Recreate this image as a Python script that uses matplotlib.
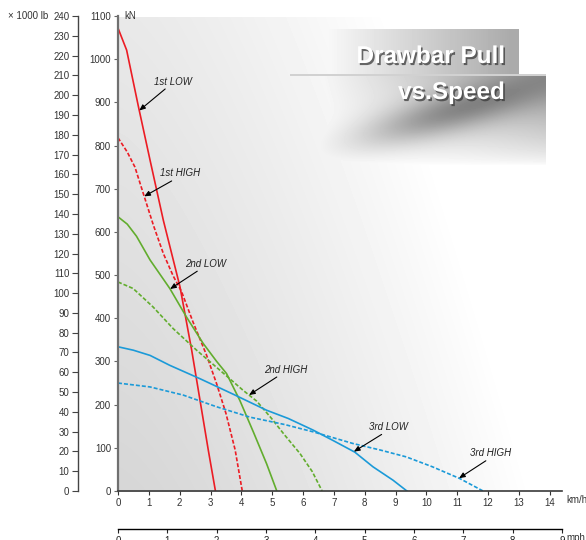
import numpy as np
import matplotlib
matplotlib.use("Agg")
import matplotlib.pyplot as plt
import matplotlib.patheffects as pe

plt.rcParams['font.family'] = ['Liberation Sans', 'DejaVu Sans']

# speed (km/h) and drawbar pull (kN)
low1_x = [0, 0.28, 0.66, 1.04, 1.47, 2.01, 2.39, 2.66, 2.93, 3.16]
low1_y = [1072, 1021, 891, 766, 627, 473, 326, 210, 94, 0]
high1_x = [0, 0.3, 0.55, 0.82, 1.15, 1.47, 1.79, 2.06, 2.44, 2.87, 3.2, 3.5, 3.8, 4.03]
high1_y = [818, 785, 750, 689, 615, 550, 498, 462, 390, 315, 248, 180, 95, 0]
low2_x = [0, 0.3, 0.6, 1.04, 1.68, 2.22, 2.76, 3.2, 3.52, 3.95, 4.4, 4.82, 5.15]
low2_y = [635, 618, 590, 535, 469, 403, 342, 300, 272, 210, 135, 63, 0]
high2_x = [0, 0.49, 1.14, 1.79, 2.55, 3.3, 4.06, 4.5, 4.98, 5.4, 5.9, 6.3, 6.62]
high2_y = [484, 469, 426, 376, 326, 280, 233, 208, 168, 130, 87, 45, 0]
low3_x = [0, 0.5, 1.04, 1.68, 2.66, 3.74, 4.82, 5.52, 6.33, 7.0, 7.68, 8.27, 8.92, 9.37]
low3_y = [334, 326, 314, 291, 260, 224, 187, 168, 141, 116, 90, 56, 25, 0]
high3_x = [0, 1.04, 2.12, 3.2, 4.28, 5.4, 6.33, 7.62, 8.5, 9.35, 10.2, 11.08, 11.84]
high3_y = [250, 241, 222, 195, 171, 154, 137, 110, 95, 79, 56, 29, 0]

kmh_ticks = list(range(0, 15))
mph_ticks = list(range(0, 10))
kn_ticks = list(range(0, 1101, 100))
lb_ticks = list(range(0, 241, 10))

W, H = 586, 540
fig = plt.figure(figsize=(W / 100, H / 100), dpi=100)

# background shading (grey wash + title banners)
yy, xx = np.mgrid[0:H, 0:W].astype(float)
u = np.clip((xx - 118) / 444, 0, None)
v = (yy - 17) / 474
bg = 0.84 + 0.16 * np.clip(1.1 * u ** 1.4 + 0.45 * (1 - v), 0, 1)
inside = (xx >= 118) & (yy >= 17) & (yy <= 491)
bg = np.where(inside, bg, 1.0)
b1 = (xx >= 300) & (xx <= 518) & (yy >= 29) & (yy <= 73)
t1 = np.clip((xx - 310) / 200, 0, 1)
bg = np.where(b1, np.minimum(bg, 1 - 0.33 * t1), bg)
b2 = (xx >= 290) & (xx <= 545) & (yy >= 75) & (yy <= 165)
t2 = np.clip((xx - 300) / 245, 0, 1) * np.clip(1 - (yy - 75) / 90, 0, 1) ** 0.7
smear_a = (xx - 450) * np.cos(0.28) - (yy - 112) * np.sin(0.28)
smear_b = (xx - 450) * np.sin(0.28) + (yy - 112) * np.cos(0.28)
smear = 0.3 * np.exp(-((smear_a / 95) ** 2 + (smear_b / 20) ** 2))
val2 = 1 - 0.4 * t2 - smear
bg = np.where(b2, np.minimum(bg, val2), bg)
line = (xx >= 290) & (xx <= 545) & (yy >= 73.5) & (yy <= 75)
bg = np.where(line, 0.82, bg)

axbg = fig.add_axes([0, 0, 1, 1])
axbg.imshow(bg, cmap='gray', vmin=0, vmax=1, aspect='auto', interpolation='bilinear')
axbg.axis('off')

left, bottom = 118 / W, (H - 491) / H
width, height = 444 / W, 475 / H
ax = fig.add_axes([left, bottom, width, height])
ax.patch.set_alpha(0)

red, green, blue = '#ec1c24', '#62ad2e', '#1b9ad8'
lw = 1.2
dash = (0, (2.4, 1.2))
ax.plot(low1_x, low1_y, color=red, lw=lw)
ax.plot(high1_x, high1_y, color=red, lw=lw, linestyle=dash)
ax.plot(low2_x, low2_y, color=green, lw=lw)
ax.plot(high2_x, high2_y, color=green, lw=lw, linestyle=dash)
ax.plot(low3_x, low3_y, color=blue, lw=lw)
ax.plot(high3_x, high3_y, color=blue, lw=lw, linestyle=dash)

ax.set_xlim(0, 14.4)
ax.set_ylim(0, 1100)
ax.set_xticks(kmh_ticks)
ax.set_yticks(kn_ticks)
ax.tick_params(axis='both', labelsize=7, colors='#333333', length=3, width=0.8, pad=2)
ax.tick_params(axis='y', colors='#666666', labelcolor='#333333')
for s in ['top', 'right']:
    ax.spines[s].set_visible(False)
ax.spines['left'].set_color('#707070')
ax.spines['left'].set_linewidth(1.6)
ax.spines['bottom'].set_color('#3a3a3a')
ax.spines['bottom'].set_linewidth(1.2)

# labels with arrows
labels = [
    ('1st LOW', low1_x, low1_y, 0.69, (1.79, 947), (1.53, 931)),
    ('1st HIGH', high1_x, high1_y, 0.85, (2.01, 736), (1.74, 718)),
    ('2nd LOW', low2_x, low2_y, 1.69, (2.85, 525), (2.57, 509)),
    ('2nd HIGH', high2_x, high2_y, 4.25, (5.45, 281), (5.15, 264)),
    ('3rd LOW', low3_x, low3_y, 7.65, (8.77, 148), (8.55, 131)),
    ('3rd HIGH', high3_x, high3_y, 11.06, (12.07, 88), (11.93, 70)),
]
for name, sx, sy, tx, tpos, tail in labels:
    ty = np.interp(tx, sx, sy)
    ax.text(tpos[0], tpos[1], name, fontsize=7, style='italic', color='#222222',
            ha='center', va='center')
    ax.annotate('', xy=(tx, ty), xytext=tail,
                arrowprops=dict(arrowstyle='-|>,head_length=0.35,head_width=0.15',
                                color='black', lw=0.8, shrinkA=0, shrinkB=0))

# secondary lb axis
ax2 = ax.twinx()
ax2.set_ylim(0, 240)
ax2.set_yticks(lb_ticks)
ax2.yaxis.tick_left()
ax2.spines['left'].set_position(('outward', (118 - 77.7) * 0.72))
for s in ['top', 'right', 'bottom']:
    ax2.spines[s].set_visible(False)
ax2.spines['left'].set_color('#444444')
ax2.spines['left'].set_linewidth(1.0)
ax2.tick_params(axis='y', labelsize=7, colors='#444444', labelcolor='#333333',
                length=4, width=0.8, pad=2)

# mph axis
ax3 = fig.add_axes([left, (H - 528.7) / H, width, 0.0001])
ax3.patch.set_alpha(0)
ax3.set_xlim(0, 9)
ax3.set_xticks(mph_ticks)
ax3.set_yticks([])
for s in ['top', 'right', 'left']:
    ax3.spines[s].set_visible(False)
ax3.spines['bottom'].set_linewidth(1.0)
ax3.tick_params(axis='x', labelsize=7, colors='#222222', length=3, width=0.8, pad=2)

fig.text(8 / W, 1 - 16 / H, '× 1000 lb', fontsize=7, color='#333333', va='center')
fig.text(124 / W, 1 - 16 / H, 'kN', fontsize=7, color='#333333', va='center')
fig.text(566 / W, 1 - 500 / H, 'km/h', fontsize=7, color='#333333', va='center')
fig.text(566 / W, 1 - 538 / H, 'mph', fontsize=7, color='#333333', va='center')

shadow = [pe.withSimplePatchShadow(offset=(1.2, -1.5), shadow_rgbFace='#3a3a3a', alpha=0.75)]
fig.text(505 / W, 1 - 63 / H, 'Drawbar Pull', fontsize=17.5, fontweight='bold',
         color='white', ha='right', va='baseline', path_effects=shadow)
fig.text(505 / W, 1 - 99 / H, 'vs.Speed', fontsize=17.5, fontweight='bold',
         color='white', ha='right', va='baseline', path_effects=shadow)

fig.savefig('out.png', dpi=100)
